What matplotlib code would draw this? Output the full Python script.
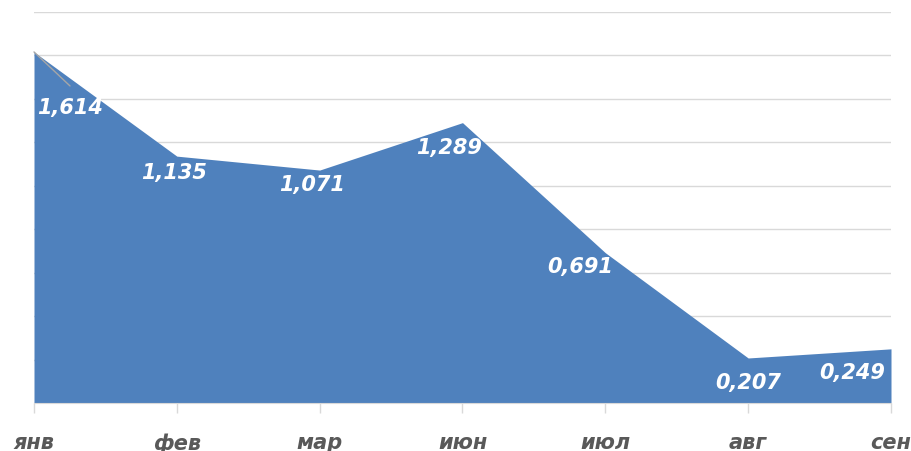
import matplotlib.pyplot as plt
import numpy as np

months = ["янв", "фев", "мар", "июн", "июл", "авг", "сен"]
values = [1.614, 1.135, 1.071, 1.289, 0.691, 0.207, 0.249]
labels = ["1,614", "1,135", "1,071", "1,289", "0,691", "0,207", "0,249"]
# label offsets in pixels (dx, dy) from each point
offsets = [(36, -55), (-3, -16), (-8, -14), (-13, -24), (-25, -13), (0, -24), (-39, -23)]

fig = plt.figure(figsize=(9.12, 4.52), dpi=100)
ax = fig.add_axes([34 / 912, 48 / 452, (891 - 34) / 912, (404 - 12.5) / 452])

x = np.arange(len(months))
ax.fill_between(x, values, 0, color="#4f81bd", linewidth=0, zorder=2)

ax.set_xlim(0, len(months) - 1)
ax.set_ylim(0, 1.8)
ax.set_yticks(np.arange(0, 1.81, 0.2))
ax.yaxis.grid(True, color="#d9d9d9", linewidth=1)
ax.set_axisbelow(True)
ax.tick_params(axis="y", length=0, labelleft=False)

ax.set_xticks(x)
ax.set_xticklabels(months, fontsize=15, fontweight="bold", fontstyle="italic",
                   color="#595959", family="DejaVu Sans")
ax.tick_params(axis="x", length=7, color="#d9d9d9", width=1, pad=14)

for side in ["top", "right", "left"]:
    ax.spines[side].set_visible(False)
ax.spines["bottom"].set_color("#d9d9d9")

# leader line for first label
ax.annotate("", xy=(0, values[0]), xytext=(36, -34), textcoords="offset pixels",
            arrowprops=dict(arrowstyle="-", color="#a6a6a6", lw=1,
                            shrinkA=0, shrinkB=0), zorder=3)

for xi, v, lab, (dx, dy) in zip(x, values, labels, offsets):
    ax.annotate(lab, xy=(xi, v), xytext=(dx, dy), textcoords="offset pixels",
                ha="center", va="center", color="white", fontsize=15,
                fontweight="bold", fontstyle="italic", family="DejaVu Sans", zorder=4)

fig.savefig("out.png", dpi=100)
